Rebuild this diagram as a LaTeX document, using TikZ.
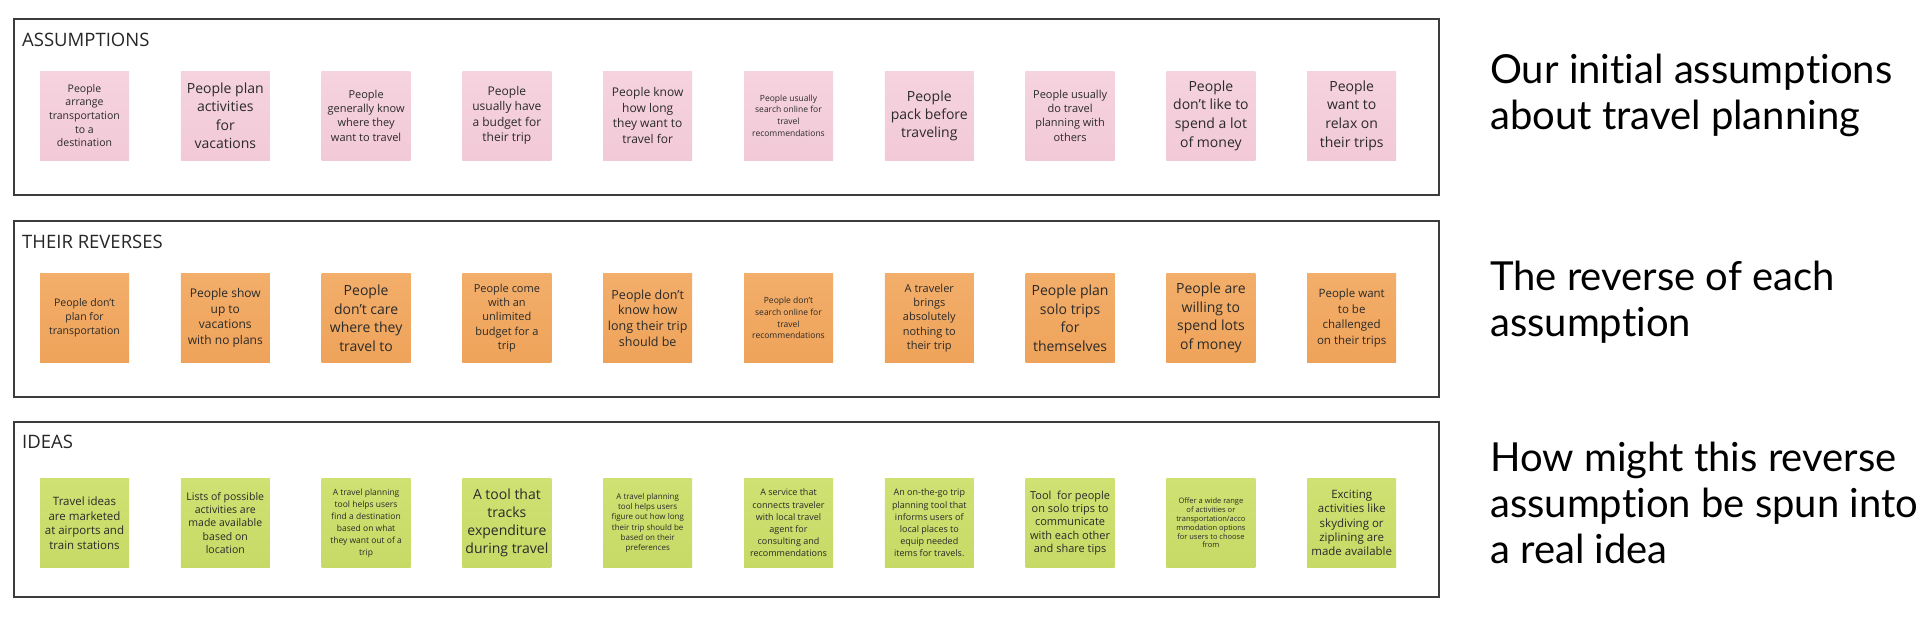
\documentclass[tikz,border=0pt]{standalone}
\usepackage{fontspec}
\setmainfont{Open Sans}
\newfontfamily\latofont[Ligatures=NoCommon]{Lato}
\usetikzlibrary{calc}
\pgfdeclarelayer{bg}
\pgfsetlayers{bg,main}
\definecolor{pinknote}{HTML}{F2C9D7}
\definecolor{pinktop}{HTML}{F5D3DF}
\definecolor{orangenote}{HTML}{EFA35A}
\definecolor{orangetop}{HTML}{F2AE6A}
\definecolor{greennote}{HTML}{C7DA66}
\definecolor{greentop}{HTML}{CFE172}
\definecolor{notetext}{HTML}{2A2A2A}
\definecolor{framecol}{HTML}{3C3C3C}
\newcommand\nf[2]{\fontsize{#1}{#2}\selectfont}
\newcommand\stick[7]{%
  \node[#4, font=\nf{#5}{#6}] (#1) at (#2,#3) {#7};
  \begin{pgfonlayer}{bg}
    \fill[black,opacity=.08] ($(#1.south)+(-2,1.5)$) ellipse (42 and 6.5);
    \fill[black,opacity=.14] ($(#1.south)+(-2,1.5)$) ellipse (37 and 4.5);
    \fill[black,opacity=.22] ($(#1.south)+(-2,1)$) ellipse (30 and 3);
  \end{pgfonlayer}}
\tikzset{
  notebase/.style={minimum width=89pt, minimum height=89pt, inner sep=1pt, align=center, text=notetext},
  pinkbox/.style={notebase, top color=pinktop, bottom color=pinknote},
  orangebox/.style={notebase, top color=orangetop, bottom color=orangenote},
  greenbox/.style={notebase, top color=greentop, bottom color=greennote},
  frame/.style={draw=framecol, line width=2pt},
  rowtitle/.style={anchor=base west, inner sep=0pt, text=black!85, font=\nf{18.5}{22}},
  sidetext/.style={anchor=base west, align=left, inner sep=0pt, text=black, font=\latofont\nf{40}{46}}
}
\begin{document}
\begin{tikzpicture}[x=1pt,y=-1pt]
\useasboundingbox[fill=white] (0,0) rectangle (1928,616);
% frames
\draw[frame] (14,19) rectangle (1439,195);
\draw[frame] (14,221) rectangle (1439,397);
\draw[frame] (14,422) rectangle (1439,597);
\node[rowtitle] (tA) at (22,46) {ASSUMPTIONS};
\node[rowtitle] (tR) at (22,248) {THEIR REVERSES};
\node[rowtitle] (tI) at (22,448) {IDEAS};
% row 1
\stick{a1}{84.5}{115.5}{pinkbox}{10.5}{13.6}{People\\arrange\\transportation\\to a\\destination}
\stick{a2}{225.3}{115.5}{pinkbox}{14}{18.5}{People plan\\activities\\for\\vacations}
\stick{a3}{366.1}{115.5}{pinkbox}{11}{14.3}{People\\generally know\\where they\\want to travel}
\stick{a4}{506.9}{115.5}{pinkbox}{12}{15.5}{People\\usually have\\a budget for\\their trip}
\stick{a5}{647.7}{115.5}{pinkbox}{12}{15.5}{People know\\how long\\they want to\\travel for}
\stick{a6}{788.5}{115.5}{pinkbox}{8.5}{11.7}{People usually\\search online for\\travel\\recommendations}
\stick{a7}{929.3}{115.5}{pinkbox}{14}{18}{People\\pack before\\traveling}
\stick{a8}{1070.1}{115.5}{pinkbox}{11}{14.3}{People usually\\do travel\\planning with\\others}
\stick{a9}{1210.9}{115.5}{pinkbox}{14}{18.7}{People\\don't like to\\spend a lot\\of money}
\stick{a10}{1351.7}{115.5}{pinkbox}{14}{18.7}{People\\want to\\relax on\\their trips}
% row 2
\stick{r1}{84.5}{318}{orangebox}{10.5}{14}{People don't\\plan for\\transportation}
\stick{r2}{225.3}{318}{orangebox}{12}{15.7}{People show\\up to\\vacations\\with no plans}
\stick{r3}{366.1}{318}{orangebox}{14}{18.5}{People\\don't care\\where they\\travel to}
\stick{r4}{506.9}{318}{orangebox}{11}{14.2}{People come\\with an\\unlimited\\budget for a\\trip}
\stick{r5}{647.7}{318}{orangebox}{12.5}{15.7}{People don't\\know how\\long their trip\\should be}
\stick{r6}{788.5}{318}{orangebox}{8.5}{11.8}{People don't\\search online for\\travel\\recommendations}
\stick{r7}{929.3}{318}{orangebox}{11}{14.2}{A traveler\\brings\\absolutely\\nothing to\\their trip}
\stick{r8}{1070.1}{318}{orangebox}{14}{18.5}{People plan\\solo trips\\for\\themselves}
\stick{r9}{1210.9}{318}{orangebox}{14}{18.5}{People are\\willing to\\spend lots\\of money}
\stick{r10}{1351.7}{318}{orangebox}{11.5}{15.7}{People want\\to be\\challenged\\on their trips}
% row 3
\stick{i1}{84.5}{523}{greenbox}{11.5}{14.5}{Travel ideas\\are marketed\\at airports and\\train stations}
\stick{i2}{225.3}{523}{greenbox}{10.5}{13.3}{Lists of possible\\activities are\\made available\\based on\\location}
\stick{i3}{366.1}{523}{greenbox}{8.5}{12}{A travel planning\\tool helps users\\find a destination\\based on what\\they want out of a\\trip}
\stick{i4}{506.9}{523}{greenbox}{14}{17.8}{A tool that\\tracks\\expenditure\\during travel}
\stick{i5}{647.7}{523}{greenbox}{8}{10.2}{A travel planning\\tool helps users\\figure out how long\\their trip should be\\based on their\\preferences}
\stick{i6}{788.5}{523}{greenbox}{9}{12.2}{A service that\\connects traveler\\with local travel\\agent for\\consulting and\\recommendations}
\stick{i7}{929.3}{523}{greenbox}{9}{12.2}{An on-the-go trip\\planning tool that\\informs users of\\local places to\\equip needed\\items for travels.}
\stick{i8}{1070.1}{523}{greenbox}{11}{13.3}{Tool\ \ for people\\on solo trips to\\communicate\\with each other\\and share tips}
\stick{i9}{1210.9}{523}{greenbox}{7.5}{8.8}{Offer a wide range\\of activities or\\transportation/acco\\mmodation options\\for users to choose\\from}
\stick{i10}{1351.7}{523}{greenbox}{11.5}{14.3}{Exciting\\activities like\\skydiving or\\ziplining are\\made available}
% side texts (anchored at the baseline of the last line)
\node[sidetext] (s1) at (1490,129) {Our initial assumptions\\about travel planning};
\node[sidetext] (s2) at (1490,336) {The reverse of each\\assumption};
\node[sidetext] (s3) at (1490,563) {How might this reverse\\assumption be spun into\\a real idea};
\end{tikzpicture}
\end{document}
